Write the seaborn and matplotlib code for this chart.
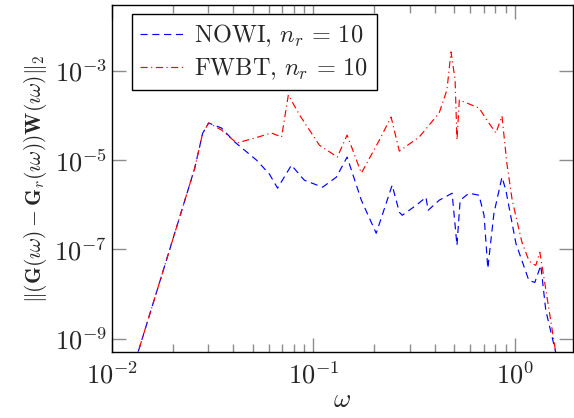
import numpy as np
import pandas as pd
import matplotlib
matplotlib.use("Agg")
import matplotlib.pyplot as plt
import matplotlib.ticker as mticker
import seaborn as sns

# NOWI, n_r = 10
nowi_omega = [0.0130, 0.02576, 0.0282, 0.0302, 0.0350, 0.0407, 0.0522, 0.0605, 0.0664,
              0.0778, 0.0901, 0.111, 0.130, 0.147, 0.173, 0.205, 0.246, 0.267, 0.276,
              0.3236, 0.362, 0.371, 0.421, 0.488, 0.516, 0.535, 0.592, 0.664, 0.703,
              0.734, 0.787, 0.863, 0.902, 1.012, 1.173, 1.256, 1.345, 1.424, 1.596, 1.651]
nowi_err = [2.9e-10, 6.6e-6, 4.0e-5, 6.8e-5, 5.24e-5, 2.54e-5, 1.0e-5, 4.85e-6, 2.35e-6,
            7.7e-6, 3.55e-6, 2.47e-6, 4.15e-6, 1.17e-5, 1.26e-6, 2.29e-7, 2.74e-6, 6.8e-7, 5.8e-7,
            9.7e-7, 1.47e-6, 7.5e-7, 1.26e-6, 1.81e-6, 1.23e-7, 1.26e-6, 1.81e-6, 1.63e-6, 5.8e-7,
            3.74e-8, 6.4e-7, 4.15e-6, 2.12e-6, 1.36e-7, 2.01e-8, 1.81e-8, 4.37e-8, 4.26e-9, 4.84e-10, 2.9e-10]

# FWBT, n_r = 10
fwbt_omega = [0.0130, 0.02576, 0.0282, 0.0302, 0.0350, 0.0416, 0.0511, 0.0619, 0.0695,
              0.0751, 0.0853, 0.107, 0.1315, 0.147, 0.173, 0.2125, 0.243, 0.267, 0.335,
              0.421, 0.460, 0.482, 0.505, 0.516, 0.530, 0.664, 0.726, 0.805, 0.863,
              0.912, 0.970, 1.084, 1.173, 1.213, 1.27, 1.33, 1.376, 1.596, 1.651]
fwbt_err = [2.9e-10, 6.6e-6, 4.0e-5, 6.8e-5, 4.72e-5, 2.41e-5, 3.12e-5, 4.05e-5, 3.29e-5,
            2.89e-4, 1.03e-4, 2.17e-5, 1.17e-5, 3.65e-5, 5.1e-6, 2.81e-5, 9.25e-5, 1.59e-5, 3.29e-5,
            1.14e-4, 3.74e-4, 2.67e-3, 6.28e-4, 2.81e-5, 2.23e-4, 1.47e-4, 7.9e-5, 4.05e-5, 9.75e-5,
            8.6e-6, 1.26e-6, 1.44e-7, 5.66e-8, 4.84e-8, 4.37e-8, 8.6e-8, 3.37e-8, 4.84e-10, 2.9e-10]

y_ticks = [1e-9, 1e-7, 1e-5, 1e-3]

sns.set_style("ticks")
plt.rcParams["font.family"] = ["serif"]
plt.rcParams["font.serif"] = ["cmr10", "DejaVu Serif"]
plt.rcParams["mathtext.fontset"] = "cm"
plt.rcParams["axes.unicode_minus"] = False
plt.rcParams["axes.formatter.use_mathtext"] = True

df_nowi = pd.DataFrame({"omega": nowi_omega, "err": nowi_err})
df_fwbt = pd.DataFrame({"omega": fwbt_omega, "err": fwbt_err})

fig = plt.figure(figsize=(5.74, 4.18), dpi=100)
ax = fig.add_axes([0.195, 0.158, 0.803, 0.830])

sns.lineplot(data=df_nowi, x="omega", y="err", ax=ax, estimator=None, sort=False,
             color="blue", lw=0.85, linestyle=(0, (6, 4)), label=r"NOWI, $n_r\,=\,10$")
sns.lineplot(data=df_fwbt, x="omega", y="err", ax=ax, estimator=None, sort=False,
             color="red", lw=0.85, linestyle=(0, (6, 3, 1, 3)), label=r"FWBT, $n_r\,=\,10$")

ax.set_xscale("log")
ax.set_yscale("log")
ax.set_xlim(0.01, 1.94)
ax.set_ylim(5e-10, 3e-2)

ax.set_yticks(y_ticks)
ax.yaxis.set_minor_locator(mticker.NullLocator())
ax.xaxis.set_major_locator(mticker.LogLocator(base=10))
ax.xaxis.set_minor_locator(mticker.LogLocator(base=10, subs=np.arange(2, 10)))

ax.tick_params(which="both", direction="in", top=True, right=True, color="#8c8c8c",
               width=1, labelsize=19)
ax.tick_params(axis="x", which="both", pad=7)
ax.tick_params(which="major", length=10)
ax.tick_params(which="minor", length=6)
for s in ax.spines.values():
    s.set_color("black")
    s.set_linewidth(1)

ax.set_xlabel(r"$\omega$", fontsize=19, labelpad=0)
ax.set_ylabel(r"$\|(\mathbf{G}(\imath\omega) - \mathbf{G}_r(\imath\omega))\mathbf{W}(\imath\omega)\|_2$",
              fontsize=15.5, labelpad=4)

leg = ax.legend(loc="upper left", bbox_to_anchor=(0.0434, 0.974), borderaxespad=0,
                fontsize=17.5, fancybox=False, framealpha=1, edgecolor="black",
                handlelength=1.8, handletextpad=0.4, labelspacing=0.3, borderpad=0.35)
leg.get_frame().set_linewidth(1)

fig.savefig("out.png", dpi=100)
